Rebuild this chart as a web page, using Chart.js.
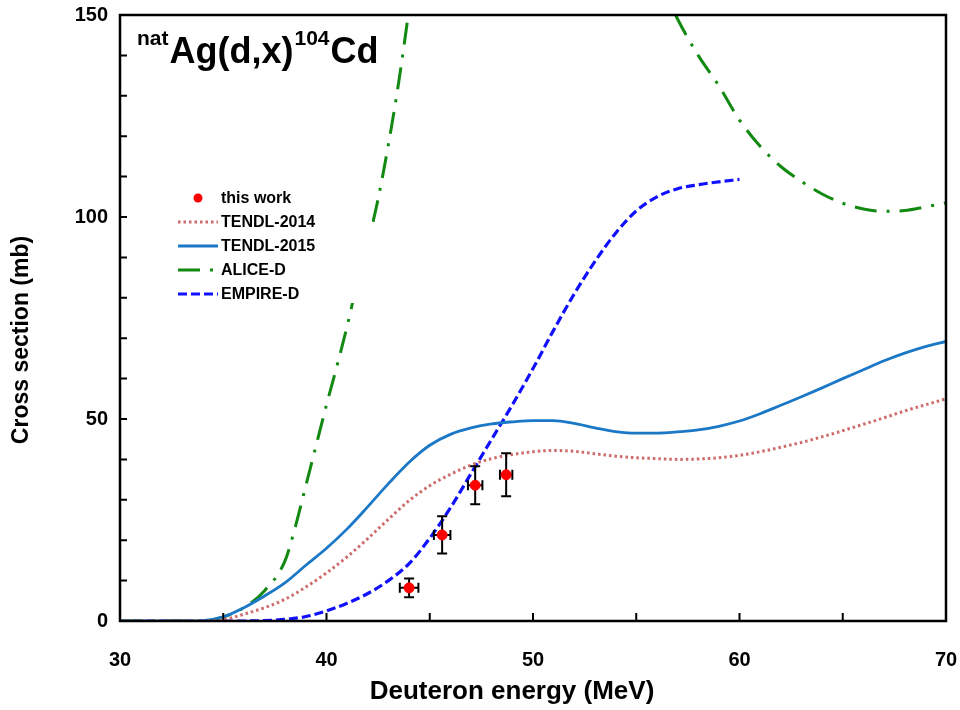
<!DOCTYPE html>
<html>
<head>
<meta charset="utf-8">
<script src="https://cdn.jsdelivr.net/npm/chart.js@4.4.1/dist/chart.umd.min.js"></script>
<style>
html, body { margin: 0; padding: 0; background: #fff; }
#caixa { width: 960px; height: 710px; }
</style>
</head>
<body>
<div id="caixa"><canvas id="grafico"></canvas></div>
<script>
// dados
const energiaGrade = [30,31,32,33,34,35,36,37,38,39,40,41,42,43,44,45,46,47,48,49,50,
  51,52,53,54,55,56,57,58,59,60,61,62,63,64,65,66,67,68,69,70];

const tendl2014 = [0,0,0,0,0,0.3,1.7,3.3,5.4,8.4,11.9,15.9,20.4,25.2,29.8,33.5,36.3,38.6,40.2,41.2,41.9,
  42.2,42,41.4,40.8,40.4,40.2,40.0,40.1,40.4,41,41.9,43,44.2,45.6,47.1,48.7,50.3,52,53.5,55];

const tendl2015 = [0,0,0,0,0.1,1.0,3.3,6.2,9.5,13.8,18.0,22.8,28.3,34.0,39.3,43.5,46.2,47.8,48.8,49.3,49.6,
  49.6,48.9,47.8,46.9,46.5,46.5,46.8,47.3,48.2,49.5,51.3,53.4,55.5,57.7,60.0,62.2,64.4,66.3,67.9,69.2];

const empireE = [30,31,32,33,34,35,36,37,38,39,40,41,42,43,44,45,46,47,48,49,50,
  51,52,53,54,55,56,57,58,59,60];
const empireD = [0,0,0,0,0,0,0,0.1,0.4,1.1,2.5,4.4,6.8,10,14.2,20.5,28,36.5,45,53.5,62.5,
  72,81,89,96,101.5,105,107,108,108.7,109.3];

// acima de 150 mb a curva sai do grafico (null = trecho fora)
const aliceE = [30,34,35,36,37,38,38.5,39,39.5,40,40.5,41,41.5,42,42.5,43,43.5,44,44.5,
  50,56,57,58,59,60,61,62,63,64,65,66,67,68,69,70];
const aliceD = [0,0,1,3.3,7.5,15,23.5,33.5,43.5,53.5,63,73,84,93.5,104.5,118,133.5,151.5,170,
  null,160,149,140,132.5,124,117.5,112.5,108.8,105.7,103.4,102,101.4,101.6,102.5,103.5];

const expE = [44.0, 45.6, 47.2, 48.7];
const expY = [8.2, 21.3, 33.6, 36.2];
const expErroY = [2.3, 4.6, 4.7, 5.3];
const expErroE = [0.45, 0.4, 0.35, 0.3];

const rotulosLegenda = ['this work', 'TENDL-2014', 'TENDL-2015', 'ALICE-D', 'EMPIRE-D'];
const tituloX = 'Deuteron energy (MeV)';
const tituloY = 'Cross section (mb)';

function pontos(xs, ys) {
  return xs.map((x, i) => ({ x: x, y: ys[i] }));
}

const fonte = 'Liberation Sans, Arial, Helvetica, sans-serif';

// barras de erro, desenhadas logo antes dos pontos
const pluginErros = {
  id: 'erros',
  beforeDatasetDraw(chart, args) {
    if (args.index !== 0) return;
    const ctx = chart.ctx;
    const sx = chart.scales.x, sy = chart.scales.y;
    ctx.save();
    ctx.strokeStyle = '#000';
    ctx.lineWidth = 2;
    expE.forEach((e, i) => {
      const px = sx.getPixelForValue(e);
      const py = sy.getPixelForValue(expY[i]);
      const y1 = sy.getPixelForValue(expY[i] + expErroY[i]);
      const y2 = sy.getPixelForValue(expY[i] - expErroY[i]);
      const x1 = sx.getPixelForValue(e - expErroE[i]);
      const x2 = sx.getPixelForValue(e + expErroE[i]);
      ctx.beginPath();
      ctx.moveTo(px, y1); ctx.lineTo(px, y2);
      ctx.moveTo(px - 5, y1); ctx.lineTo(px + 5, y1);
      ctx.moveTo(px - 5, y2); ctx.lineTo(px + 5, y2);
      ctx.moveTo(x1, py); ctx.lineTo(x2, py);
      ctx.moveTo(x1, py - 5); ctx.lineTo(x1, py + 5);
      ctx.moveTo(x2, py - 5); ctx.lineTo(x2, py + 5);
      ctx.stroke();
    });
    ctx.restore();
  }
};

// moldura, ticks para dentro, legenda e titulos
const pluginMoldura = {
  id: 'moldura',
  afterDatasetsDraw(chart) {
    const ctx = chart.ctx;
    const a = chart.chartArea;
    const sx = chart.scales.x, sy = chart.scales.y;
    ctx.save();

    // legenda com fundo branco
    ctx.fillStyle = '#fff';
    ctx.fillRect(165, 180, 207, 123);
    const linhas = [198, 222, 246, 270, 294];
    const estilos = chart.data.datasets;
    ctx.font = 'bold 16px ' + fonte;
    ctx.textBaseline = 'middle';
    ctx.textAlign = 'left';
    linhas.forEach((ly, i) => {
      const ds = estilos[i];
      if (i === 0) {
        ctx.fillStyle = ds.backgroundColor;
        ctx.beginPath();
        ctx.arc(198, ly, 4.5, 0, Math.PI * 2);
        ctx.fill();
      } else {
        ctx.strokeStyle = ds.borderColor;
        ctx.lineWidth = ds.borderWidth;
        ctx.setLineDash(ds.borderDash || []);
        ctx.beginPath();
        ctx.moveTo(178, ly); ctx.lineTo(218, ly);
        ctx.stroke();
        ctx.setLineDash([]);
      }
      ctx.fillStyle = '#000';
      ctx.fillText(rotulosLegenda[i], 221, ly + 1);
    });

    // ticks para dentro
    ctx.strokeStyle = '#000';
    ctx.lineWidth = 2;
    ctx.beginPath();
    sx.ticks.forEach(t => {
      const px = sx.getPixelForValue(t.value);
      ctx.moveTo(px, a.bottom); ctx.lineTo(px, a.bottom - 8);
    });
    sy.ticks.forEach(t => {
      const py = sy.getPixelForValue(t.value);
      ctx.moveTo(a.left, py); ctx.lineTo(a.left + 7, py);
    });
    ctx.stroke();

    // moldura
    ctx.lineWidth = 2.5;
    ctx.strokeRect(a.left, a.top, a.right - a.left, a.bottom - a.top);

    // titulo natAg(d,x)104Cd
    ctx.fillStyle = '#000';
    ctx.textBaseline = 'alphabetic';
    let x = 137;
    const partes = [['nat', 21, 45], ['Ag(d,x)', 36, 63], ['104', 21, 45], ['Cd', 36, 63]];
    partes.forEach(p => {
      ctx.font = 'bold ' + p[1] + 'px ' + fonte;
      ctx.fillText(p[0], x, p[2]);
      x += ctx.measureText(p[0]).width + 1;
    });

    // titulos dos eixos
    ctx.textAlign = 'center';
    ctx.textBaseline = 'middle';
    ctx.font = 'bold 26px ' + fonte;
    ctx.fillText(tituloX, 512, 692);
    ctx.translate(22, 340);
    ctx.rotate(-Math.PI / 2);
    ctx.font = 'bold 23px ' + fonte;
    ctx.fillText(tituloY, 0, 0);
    ctx.restore();
  }
};

const grafico = new Chart(document.getElementById('grafico'), {
  type: 'line',
  data: {
    datasets: [
      {
        label: 'this work',
        type: 'scatter',
        data: pontos(expE, expY),
        backgroundColor: '#ff0000',
        borderColor: '#ff0000',
        pointRadius: 5,
        showLine: false
      },
      {
        label: 'TENDL-2014',
        data: pontos(energiaGrade, tendl2014),
        borderColor: '#cf6a6a',
        borderWidth: 3,
        borderDash: [2.5, 3],
        pointRadius: 0,
        cubicInterpolationMode: 'monotone'
      },
      {
        label: 'TENDL-2015',
        data: pontos(energiaGrade, tendl2015),
        borderColor: '#1b78c6',
        borderWidth: 2.8,
        pointRadius: 0,
        cubicInterpolationMode: 'monotone'
      },
      {
        label: 'ALICE-D',
        data: pontos(aliceE, aliceD),
        borderColor: '#128a12',
        borderWidth: 3,
        borderDash: [22, 10, 3, 10],
        pointRadius: 0,
        spanGaps: false,
        cubicInterpolationMode: 'monotone'
      },
      {
        label: 'EMPIRE-D',
        data: pontos(empireE, empireD),
        borderColor: '#1010ff',
        borderWidth: 3.2,
        borderDash: [9, 4],
        pointRadius: 0,
        cubicInterpolationMode: 'monotone'
      }
    ]
  },
  options: {
    responsive: true,
    maintainAspectRatio: false,
    animation: false,
    layout: { padding: { top: 15, right: 14, left: 0, bottom: 0 } },
    plugins: {
      legend: { display: false },
      tooltip: { enabled: false }
    },
    scales: {
      x: {
        type: 'linear',
        min: 30,
        max: 70,
        grid: { display: false, drawTicks: false },
        border: { display: false },
        ticks: {
          stepSize: 5,
          autoSkip: false,
          maxRotation: 0,
          padding: 27,
          color: '#000',
          font: { family: fonte, size: 20, weight: 'bold' },
          callback: v => (v % 10 === 0 ? v : '')
        },
        afterFit: s => {
          s.height = 89;
          s.paddingLeft = 0;
          s.paddingRight = 0;
        }
      },
      y: {
        min: 0,
        max: 150,
        grid: { display: false, drawTicks: false },
        border: { display: false },
        ticks: {
          stepSize: 10,
          autoSkip: false,
          padding: 12,
          color: '#000',
          font: { family: fonte, size: 20, weight: 'bold' },
          callback: v => (v % 50 === 0 ? v : '')
        },
        afterFit: s => {
          s.width = 120;
          s.paddingTop = 0;
          s.paddingBottom = 0;
        }
      }
    }
  },
  plugins: [pluginErros, pluginMoldura]
});
</script>
</body>
</html>
